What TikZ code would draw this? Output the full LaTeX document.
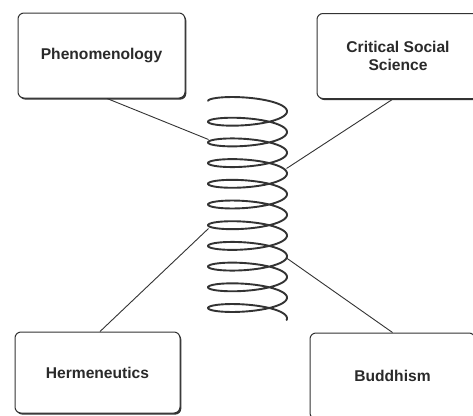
\documentclass[tikz,border=0pt]{standalone}
\usepackage{fontspec}
\setmainfont{Liberation Sans}
\usetikzlibrary{shadows}
\definecolor{ink}{HTML}{333333}
\definecolor{txt}{HTML}{2A2A2A}
\tikzset{
  topicbox/.style={draw=ink, line width=1pt, fill=white, rounded corners=6pt,
    drop shadow={shadow xshift=1.3pt, shadow yshift=-1.6pt, fill=ink, opacity=1},
    text=txt, align=center, inner sep=0pt,
    font=\fontsize{15.6}{17.5}\selectfont\bfseries},
  link/.style={draw=ink, line width=0.9pt},
  coil/.style={draw=ink, line width=1.9pt}
}
\begin{document}
\begin{tikzpicture}[x=1pt,y=-1pt]
\useasboundingbox (0,0) rectangle (473,415);
\clip (0,0) rectangle (473,415);
\fill[white] (0,0) rectangle (473,415);
% boxes
\node[topicbox, minimum width=167pt, minimum height=85pt] (phen) at (101.5,55.5) {Phenomenology};
\node[topicbox, minimum width=162pt, minimum height=85pt] (crit) at (398,56) {Critical Social\\Science};
\node[topicbox, minimum width=165pt, minimum height=81pt] (herm) at (97.5,372.5) {Hermeneutics};
\node[topicbox, minimum width=165pt, minimum height=86pt] (budd) at (392.5,376) {Buddhism};
% contact points on the coil
\coordinate (c1) at (208.5,139.5);
\coordinate (c2) at (286.5,168.5);
\coordinate (c3) at (208.5,228.5);
\coordinate (c4) at (286.5,258);
% connectors
\draw[link] ([xshift=5.5pt]phen.south) -- (c1);
\draw[link] ([xshift=-5pt]crit.south) -- (c2);
\draw[link] ([xshift=2.5pt]herm.north) -- (c3);
\draw[link] (budd.north) -- (c4);
% coil
\draw[coil, line cap=round] plot[domain=182:3968, samples=760, smooth]
  ({247.5+39.5*cos(\x)}, {90.65+\x/360*20.7+8.5*sin(\x)});
\end{tikzpicture}
\end{document}
